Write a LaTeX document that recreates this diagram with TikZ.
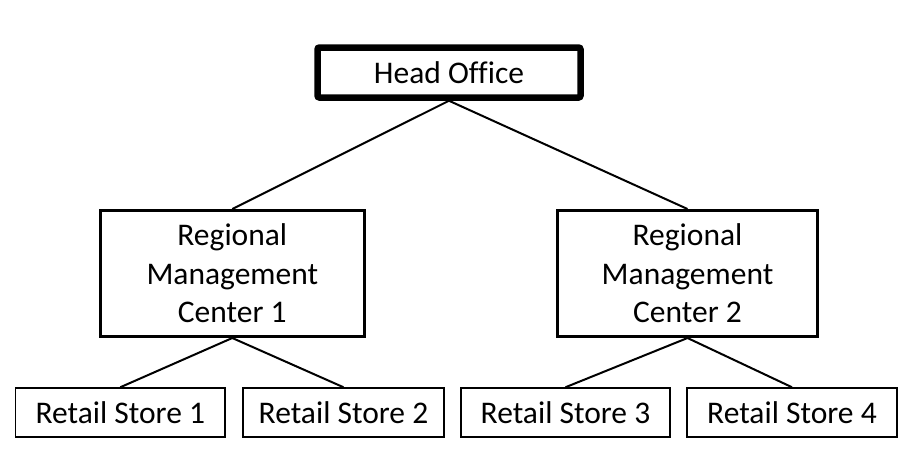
\documentclass[tikz,border=0pt]{standalone}
\usepackage{fontspec}
\setmainfont[Ligatures=NoCommon]{Carlito}
\begin{document}
\begin{tikzpicture}[x=1pt,y=-1pt,
  headbox/.style={draw=black,line width=6.5pt,rounded corners=2pt,minimum width=263pt,minimum height=50pt,inner sep=0pt,font=\fontsize{31.5}{38}\selectfont},
  regbox/.style={draw=black,line width=3pt,minimum height=126pt,inner sep=0pt,align=center,font=\fontsize{31.5}{38.5}\selectfont},
  storebox/.style={draw=black,line width=1.5pt,minimum height=49pt,inner sep=0pt,font=\fontsize{31.5}{38}\selectfont},
  link/.style={draw=black,line width=2pt},
  sublink/.style={draw=black,line width=2pt}]
\useasboundingbox (0,0) rectangle (914,456);
\node[headbox] (head) at (449,72.5) {Head Office};
\node[regbox,minimum width=263.5pt] (r1) at (232.3,273.5) {Regional\\Management\\Center 1};
\node[regbox,minimum width=260pt] (r2) at (687.5,273.5) {Regional\\Management\\Center 2};
\node[storebox,minimum width=209.5pt] (s1) at (120.3,412.5) {Retail Store 1};
\node[storebox,minimum width=201pt] (s2) at (343.5,412.5) {Retail Store 2};
\node[storebox,minimum width=209pt] (s3) at (565.5,412.5) {Retail Store 3};
\node[storebox,minimum width=210pt] (s4) at (792,412.5) {Retail Store 4};
\draw[link] (head.south) -- (r1.north);
\draw[link] (head.south) -- (r2.north);
\draw[sublink] (r1.south) -- (s1.north);
\draw[sublink] (r1.south) -- (s2.north);
\draw[sublink] (r2.south) -- (s3.north);
\draw[sublink] (r2.south) -- (s4.north);
\end{tikzpicture}
\end{document}
